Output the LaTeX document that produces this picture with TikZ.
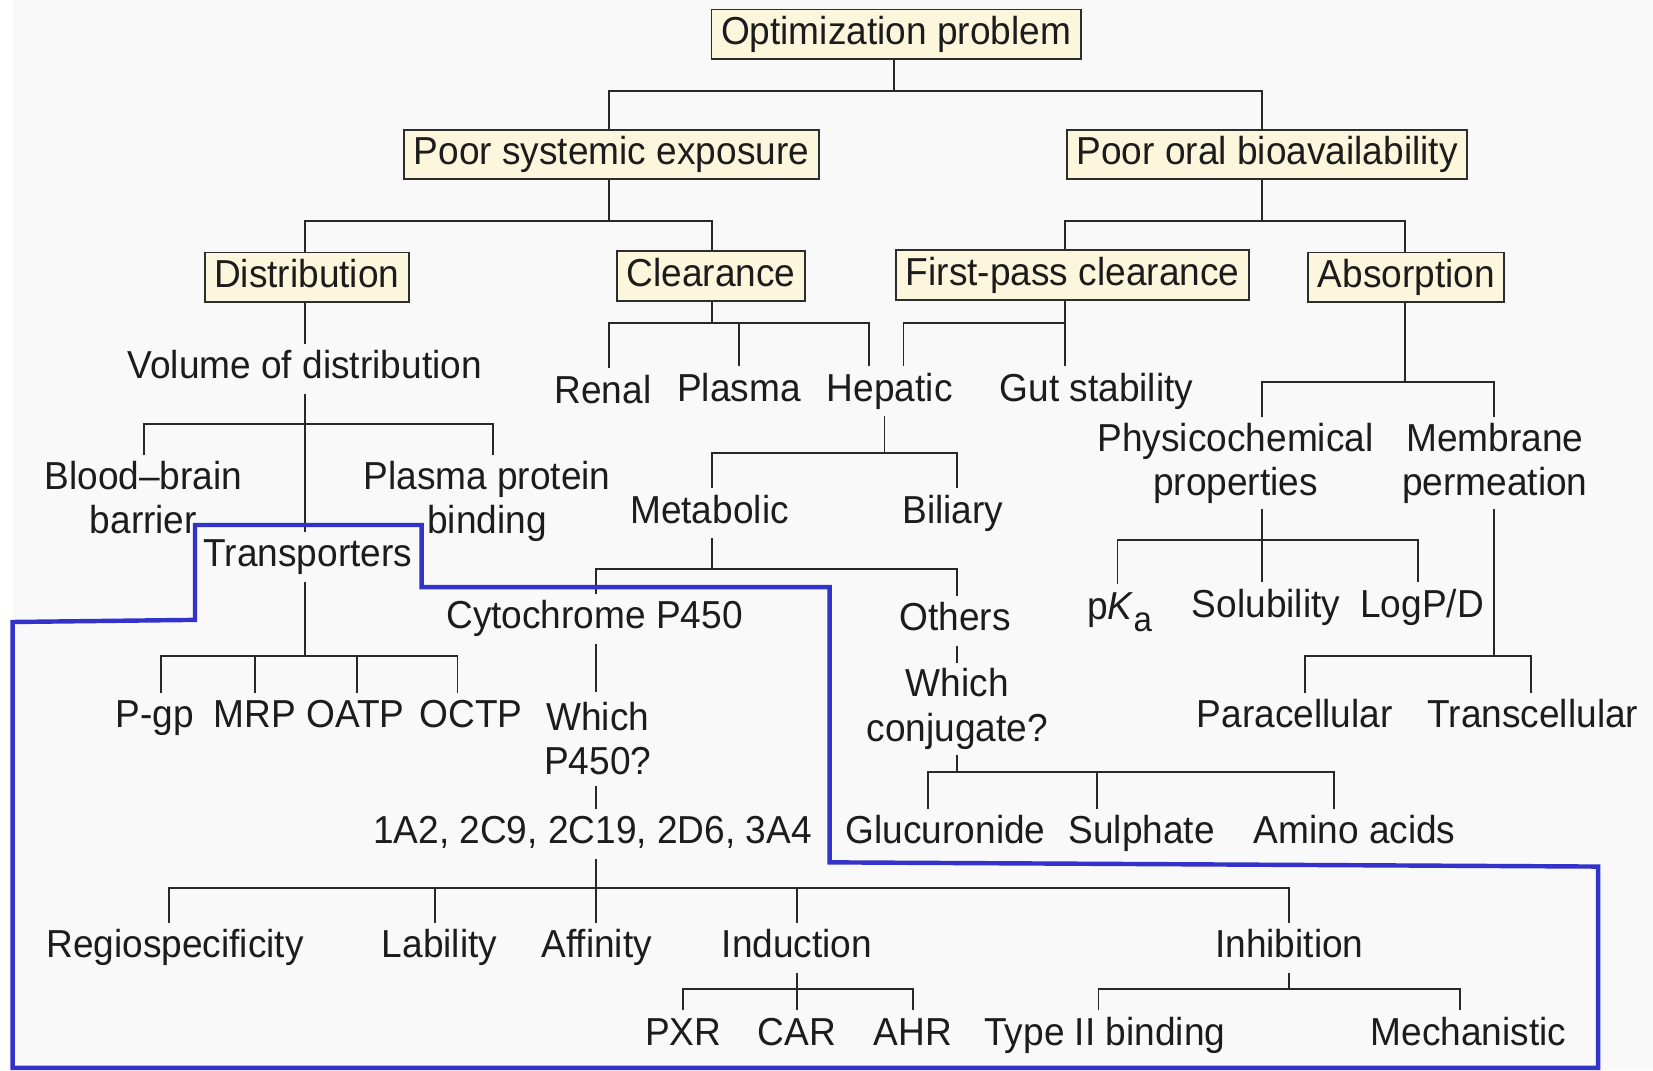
\documentclass[tikz,border=0pt]{standalone}
\usepackage{fontspec}
\setmainfont{Liberation Sans}[FakeStretch=0.95]
\definecolor{txtc}{RGB}{28,28,28}
\definecolor{linec}{RGB}{40,40,40}
\definecolor{boxc}{RGB}{45,45,45}
\definecolor{boxfill}{RGB}{252,246,220}
\definecolor{bluel}{RGB}{51,51,204}
\definecolor{bgc}{RGB}{249,249,249}
\newcommand\lblfont{\fontsize{37}{42}\selectfont}
\tikzset{
  lbl/.style={font=\lblfont, text=txtc, text height=27pt, text depth=8pt, inner xsep=2pt, inner ysep=6pt},
  boxn/.style={lbl, draw=boxc, fill=boxfill, line width=1.8pt, inner xsep=9pt},
  two/.style={font=\lblfont, text=txtc, align=center, inner xsep=2pt, inner ysep=5pt, anchor=north},
  conn/.style={draw=linec, line width=1.8pt},
  outline/.style={draw=bluel, line width=4.2pt, line join=miter}
}
\begin{document}
\begin{tikzpicture}[x=1pt,y=-1pt]
\useasboundingbox (0,0) rectangle (1568,1015);
\fill[bgc] (0,0) rectangle (1568,1015);
\fill[white] (0,0) rectangle (12,1015);

% boxes
\node[boxn] (opt)  at (850,32.5)  {Optimization problem};
\node[boxn] (pse)  at (580,146.5) {Poor systemic exposure};
\node[boxn] (poba) at (1202,146.5) {Poor oral bioavailability};
\node[boxn] (dist) at (291,263)   {Distribution};
\node[boxn] (clr)  at (674.5,262) {Clearance};
\node[boxn] (fpc)  at (1017.5,261) {First-pass clearance};
\node[boxn] (abs)  at (1334,263)  {Absorption};

% single-line labels
\node[lbl] (vol)    at (289,350)  {Volume of distribution};
\node[lbl] (renal)  at (572,373)  {Renal};
\node[lbl] (plasma) at (701,371)  {Plasma};
\node[lbl] (hep)    at (844,371)  {Hepatic};
\node[lbl] (gut)    at (1040,371) {Gut stability};
\node[lbl] (trans)  at (292,528)  {Transporters};
\node[lbl] (metab)  at (673,487)  {Metabolic};
\node[lbl] (biliary) at (904,487) {Biliary};
\node[lbl] (cyp)    at (564,587)  {Cytochrome P450};
\node[lbl] (others) at (906,589)  {Others};
\node[lbl] (pgp)    at (147,681)  {P-gp};
\node[lbl] (mrp)    at (242,681)  {MRP};
\node[lbl] (oatp)   at (337,681)  {OATP};
\node[lbl] (octp)   at (447,681)  {OCTP};
\node[lbl] (cyps)   at (562,791)  {1A2, 2C9, 2C19, 2D6, 3A4};
\node[lbl] (gluc)   at (897,791)  {Glucuronide};
\node[lbl] (sulph)  at (1083,791) {Sulphate};
\node[lbl] (amino)  at (1285,791) {Amino acids};
\node[lbl] (pka)    at (1062,578) {p\textit{K}\raisebox{-0.32em}{\fontsize{33}{33}\selectfont a}};
\node[lbl] (solub)  at (1201,576) {Solubility};
\node[lbl] (logp)   at (1349,576) {LogP/D};
\node[lbl] (para)   at (1228,681) {Paracellular};
\node[lbl] (transc) at (1454,681) {Transcellular};
\node[lbl] (regio)  at (166,899)  {Regiospecificity};
\node[lbl] (lab)    at (417,899)  {Lability};
\node[lbl] (aff)    at (566,899)  {Affinity};
\node[lbl] (ind)    at (756,899)  {Induction};
\node[lbl] (inh)    at (1223,899) {Inhibition};
\node[lbl] (pxr)    at (648,982)  {PXR};
\node[lbl] (car)    at (756,982)  {CAR};
\node[lbl] (ahr)    at (866,982)  {AHR};
\node[lbl] (type2)  at (1048,982) {Type II binding};
\node[lbl] (mech)   at (1393,982) {Mechanistic};

% two-line labels
\node[two] (bbb)    at (136,432)  {Blood–brain\\barrier};
\node[two] (ppb)    at (462,432)  {Plasma protein\\binding};
\node[two,inner ysep=10pt] (which) at (567,656) {Which\\P450?};
\node[two] (whichc) at (908,629)  {Which\\conjugate?};
\node[two] (phys)   at (1172,396) {Physicochemical\\properties};
\node[two] (memb)   at (1418,396) {Membrane\\permeation};

% connectors
\draw[conn] (opt.south -| 848,0) -- (848,86);
\draw[conn] (pse.north -| 578,0) |- (1197,86) -- (poba.north -| 1197,0);

\draw[conn] (pse.south -| 578,0) -- (578,210);
\draw[conn] (dist.north -| 289,0) |- (675,210) -- (clr.north -| 675,0);

\draw[conn] (poba.south -| 1197,0) -- (1197,210);
\draw[conn] (fpc.north -| 1010,0) |- (1333,210) -- (abs.north -| 1333,0);

\draw[conn] (dist.south -| 289,0) -- (vol.north -| 289,0);
\draw[conn] (vol.south -| 289,0) -- (trans.north -| 289,0);
\draw[conn] (bbb.north -| 137,0) |- (468,402) -- (ppb.north -| 468,0);

\draw[conn] (clr.south -| 675,0) -- (675,306);
\draw[conn] (renal.north -| 578,0) |- (824,306) -- (hep.north -| 824,0);
\draw[conn] (701,306) -- (plasma.north -| 701,0);

\draw[conn] (fpc.south -| 1010,0) -- (gut.north -| 1010,0);
\draw[conn] (hep.north -| 857,0) |- (1010,306);

\draw[conn] (hep.south -| 839,0) -- (839,430);
\draw[conn] (metab.north -| 675,0) |- (908,430) -- (biliary.north -| 908,0);

\draw[conn] (metab.south -| 675,0) -- (675,540);
\draw[conn] (cyp.north -| 565,0) |- (908,540) -- (others.north -| 908,0);

\draw[conn] (cyp.south -| 565,0) -- (which.north -| 565,0);
\draw[conn] (which.south -| 565,0) -- (cyps.north -| 565,0);

\draw[conn] (cyps.south -| 565,0) -- (565,842);
\draw[conn] (regio.north -| 160,0) |- (1223,842) -- (inh.north -| 1223,0);
\draw[conn] (413,842) -- (lab.north -| 413,0);
\draw[conn] (565,842) -- (aff.north -| 565,0);
\draw[conn] (756,842) -- (ind.north -| 756,0);

\draw[conn] (ind.south -| 756,0) -- (car.north -| 756,0);
\draw[conn] (pxr.north -| 648,0) |- (866,938) -- (ahr.north -| 866,0);

\draw[conn] (inh.south -| 1223,0) -- (1223,938);
\draw[conn] (type2.north -| 1042,0) |- (1385,938) -- (mech.north -| 1385,0);

\draw[conn] (others.south -| 908,0) -- (whichc.north -| 908,0);
\draw[conn] (whichc.south -| 908,0) -- (908,732);
\draw[conn] (gluc.north -| 880,0) |- (1265,732) -- (amino.north -| 1265,0);
\draw[conn] (1041,732) -- (sulph.north -| 1041,0);

\draw[conn] (abs.south -| 1333,0) -- (1333,362);
\draw[conn] (phys.north -| 1197,0) |- (1417,362) -- (memb.north -| 1417,0);

\draw[conn] (phys.south -| 1197,0) -- (solub.north -| 1197,0);
\draw[conn] (pka.north -| 1060,0) |- (1345,512) -- (logp.north -| 1345,0);

\draw[conn] (memb.south -| 1417,0) -- (1417,622);
\draw[conn] (para.north -| 1238,0) |- (1452,622) -- (transc.north -| 1452,0);

\draw[conn] (trans.south -| 289,0) -- (289,622);
\draw[conn] (pgp.north -| 153,0) |- (434,622) -- (octp.north -| 434,0);
\draw[conn] (242,622) -- (mrp.north -| 242,0);
\draw[conn] (339,622) -- (oatp.north -| 339,0);

% blue outline
\draw[outline] (185,498) -- (400,498) -- (400,557) -- (787,557) -- (787,818)
  -- (1516,822) -- (1516,1013) -- (12,1013) -- (12,590) -- (185,588) -- cycle;
\end{tikzpicture}
\end{document}
